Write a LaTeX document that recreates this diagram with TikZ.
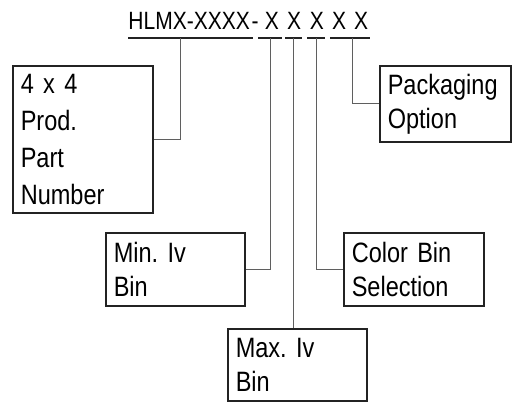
\documentclass[tikz,border=0pt]{standalone}
\usepackage{fontspec}
\setmainfont{Liberation Sans}[FakeStretch=0.84]
\usepackage{tikz}
\frenchspacing
\definecolor{boxline}{RGB}{35,35,35}
\definecolor{leadline}{RGB}{95,95,95}
\tikzset{%
    codetext/.style={inner sep=0pt, font=\fontsize{25}{30}\selectfont},
    codebox/.style={%
        draw=boxline, line width=1.6pt, anchor=north west, align=left,
        inner xsep=8pt, inner ysep=0pt, font=\fontsize{28}{34}\selectfont},
    lead/.style={leadline, line width=0.9pt},
    under/.style={boxline, line width=1.6pt}
}

\begin{document}
\begin{tikzpicture}[x=1pt,y=-1pt]
    \useasboundingbox (0,0) rectangle (514,402);
    % part number code
    \node[codetext, anchor=base east] (pn) at (250,29) {HLMX-XXXX};
    \node[codetext, anchor=base] (dash) at (255,29) {-};
    \foreach \x/\n in {272/1,294/2,317/3,339/4,361/5}
        \node[codetext, anchor=base] (x\n) at (\x,29) {X};
    \draw[under] (pn.west |- 0,38) -- (253,38);
    \draw[under] (258,38) -- (282,38);
    \draw[under] (285,38) -- (302,38);
    \draw[under] (307,38) -- (325,38);
    \draw[under] (330,38) -- (370,38);
    \coordinate (t0) at (180,38);
    \coordinate (t1) at (270,38);
    \coordinate (t2) at (293,38);
    \coordinate (t3) at (316,38);
    \coordinate (t4) at (352,38);
    % boxes
    \node[codebox, text width=124pt, minimum height=147pt,
          font=\fontsize{28}{37}\selectfont] (partbox) at (12,65)
        {4 x 4\\Prod.\\Part\\Number};
    \node[codebox, text width=123pt, minimum height=73pt] (minbox) at (105,232)
        {Min. Iv\\Bin};
    \node[codebox, text width=123pt, minimum height=72pt] (maxbox) at (227,328)
        {Max. Iv\\Bin};
    \node[codebox, text width=124pt, minimum height=73pt] (colbox) at (343,232)
        {Color Bin\\Selection};
    \node[codebox, text width=115pt, minimum height=76pt] (pkgbox) at (379,65)
        {Packaging\\Option};
    % leaders
    \draw[lead] (partbox.east) -| (t0);
    \draw[lead] (minbox.east) -| (t1);
    \draw[lead] (maxbox.north -| t2) -- (t2);
    \draw[lead] (colbox.west) -| (t3);
    \draw[lead] (pkgbox.west) -| (t4);
\end{tikzpicture}
\end{document}
